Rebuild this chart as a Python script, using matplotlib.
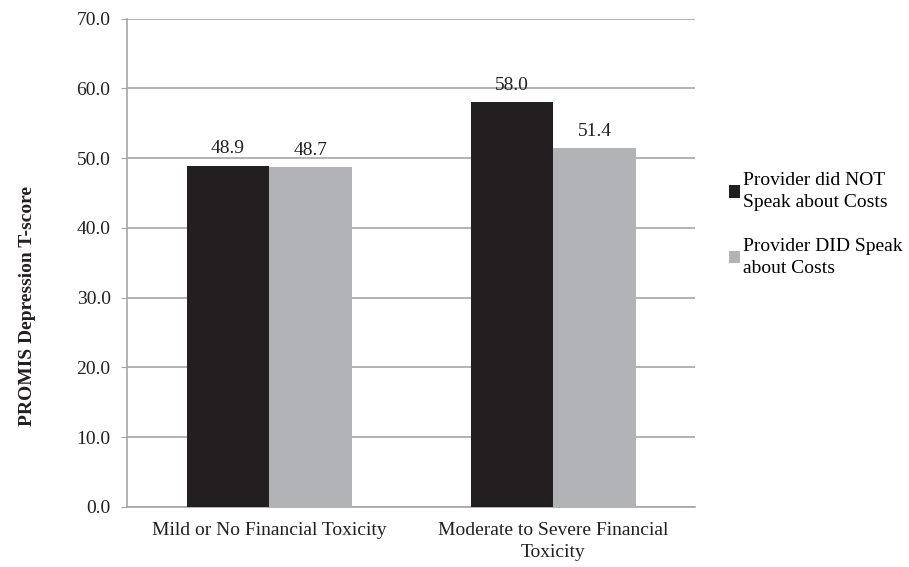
import matplotlib.pyplot as plt
import numpy as np
from matplotlib.patches import Patch

plt.rcParams["font.family"] = ["Liberation Serif", "DejaVu Serif"]

CATEGORIES = ["Mild or No Financial Toxicity", "Moderate to Severe Financial\nToxicity"]
SERIES = ["Provider did NOT\nSpeak about Costs", "Provider DID Speak\nabout Costs"]
NOT_SPOKE = [48.9, 58.0]
DID_SPEAK = [48.7, 51.4]
COLORS = ["#231f20", "#b1b3b6"]
GRID = "#a6a6a6"
FS = 14

fig = plt.figure(figsize=(9.09, 5.67), dpi=100)
ax = fig.add_axes([0.140, 0.106, 0.625, 0.861])

x = np.arange(len(CATEGORIES))
w = 0.29
b1 = ax.bar(x - w / 2, NOT_SPOKE, w, color=COLORS[0], zorder=3)
b2 = ax.bar(x + w / 2, DID_SPEAK, w, color=COLORS[1], zorder=3)
for bars in (b1, b2):
    for r in bars:
        ax.text(r.get_x() + r.get_width() / 2, r.get_height() + 1.2, f"{r.get_height():.1f}",
                ha="center", va="bottom", fontsize=FS, color="#231f20")

ax.set_xlim(-0.5, 1.5)
ax.set_ylim(0, 70)
ax.set_yticks(np.arange(0, 71, 10))
ax.set_yticklabels([f"{v:.1f}" for v in np.arange(0, 71, 10)], fontsize=FS, color="#231f20")
ax.set_xticks(x)
ax.set_xticklabels(CATEGORIES, fontsize=FS, color="#231f20", linespacing=1.35)
ax.tick_params(axis="x", length=0, pad=11)
ax.tick_params(axis="y", length=4, color=GRID, pad=8)
ax.yaxis.grid(True, color=GRID, linewidth=1.2, zorder=0)
for s in ["top", "right"]:
    ax.spines[s].set_visible(False)
ax.spines["left"].set_color(GRID)
ax.spines["bottom"].set_color(GRID)
ax.spines["left"].set_linewidth(1.2)
ax.spines["bottom"].set_linewidth(1.2)

fig.text(0.030, 0.46, "PROMIS Depression T-score", rotation=90, ha="center", va="center",
         fontsize=FS, fontweight="bold", color="#231f20")

handles = [Patch(facecolor=c, edgecolor="none") for c in COLORS]
leg = fig.legend(handles, SERIES, loc="upper left", bbox_to_anchor=(0.791, 0.713), frameon=False,
                 fontsize=FS, handlelength=0.6, handleheight=0.6, handletextpad=0.15,
                 labelspacing=1.4, borderpad=0)
for t in leg.get_texts():
    t.set_linespacing(1.35)

fig.savefig("out.png", dpi=100)
